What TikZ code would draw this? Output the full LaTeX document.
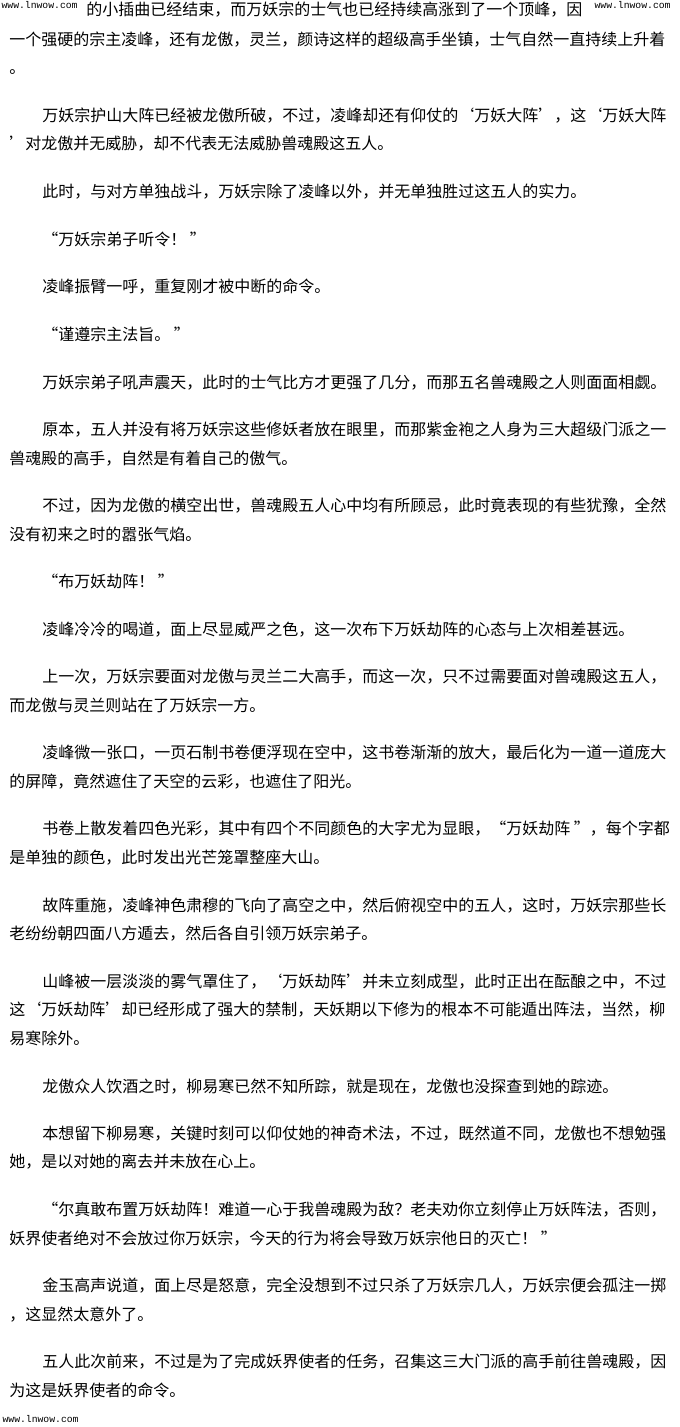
\documentclass[tikz,border=0pt]{standalone}
\usepackage{fontspec}
\newfontfamily\cjk{Noto Sans CJK SC}
\newfontfamily\wmfont{Liberation Mono}
\usetikzlibrary{positioning}

\begin{document}
\begin{tikzpicture}[
        x=0.75pt, y=-0.75pt,
        txt/.style={anchor=base west, inner sep=0pt,
          font=\cjk\fontsize{12pt}{14pt}\selectfont},
        wmark/.style={anchor=west, inner sep=1pt, fill=white,
          font=\wmfont\fontsize{7.3pt}{8pt}\selectfont},
      ]
      \useasboundingbox (0,0) rectangle (680,1427);
      % page text, one node per printed line
      \node[txt] (l1) at (86,15.3) {的小插曲已经结束，而万妖宗的士气也已经持续高涨到了一个顶峰，因};
      \node[txt] (l2) at (9,45.3) {一个强硬的宗主凌峰，还有龙傲，灵兰，颜诗这样的超级高手坐镇，士气自然一直持续上升着};
      \node[txt] (l3) at (9,73.9) {。};
      \node[txt] (l4) at (42,121.4) {万妖宗护山大阵已经被龙傲所破，不过，凌峰却还有仰仗的‘万妖大阵’，这‘万妖大阵};
      \node[txt] (l5) at (9,150) {’对龙傲并无威胁，却不代表无法威胁兽魂殿这五人。};
      \node[txt] (l6) at (42,197.5) {此时，与对方单独战斗，万妖宗除了凌峰以外，并无单独胜过这五人的实力。};
      \node[txt] (l7) at (42,245) {“万妖宗弟子听令！ ”};
      \node[txt] (l8) at (42,292.5) {凌峰振臂一呼，重复刚才被中断的命令。};
      \node[txt] (l9) at (42,340) {“谨遵宗主法旨。 ”};
      \node[txt] (l10) at (42,388) {万妖宗弟子吼声震天，此时的士气比方才更强了几分，而那五名兽魂殿之人则面面相觑。};
      \node[txt] (l11) at (42,435.5) {原本，五人并没有将万妖宗这些修妖者放在眼里，而那紫金袍之人身为三大超级门派之一};
      \node[txt] (l12) at (9,464.1) {兽魂殿的高手，自然是有着自己的傲气。};
      \node[txt] (l13) at (42,511.6) {不过，因为龙傲的横空出世，兽魂殿五人心中均有所顾忌，此时竟表现的有些犹豫，全然};
      \node[txt] (l14) at (9,540.2) {没有初来之时的嚣张气焰。};
      \node[txt] (l15) at (42,587.7) {“布万妖劫阵！ ”};
      \node[txt] (l16) at (42,635.2) {凌峰冷冷的喝道，面上尽显威严之色，这一次布下万妖劫阵的心态与上次相差甚远。};
      \node[txt] (l17) at (42,682.7) {上一次，万妖宗要面对龙傲与灵兰二大高手，而这一次，只不过需要面对兽魂殿这五人，};
      \node[txt] (l18) at (9,711.3) {而龙傲与灵兰则站在了万妖宗一方。};
      \node[txt] (l19) at (42,758.8) {凌峰微一张口，一页石制书卷便浮现在空中，这书卷渐渐的放大，最后化为一道一道庞大};
      \node[txt] (l20) at (9,787.4) {的屏障，竟然遮住了天空的云彩，也遮住了阳光。};
      \node[txt] (l21) at (42,834.9) {书卷上散发着四色光彩，其中有四个不同颜色的大字尤为显眼，“万妖劫阵 ”，每个字都};
      \node[txt] (l22) at (9,863.5) {是单独的颜色，此时发出光芒笼罩整座大山。};
      \node[txt] (l23) at (42,911) {故阵重施，凌峰神色肃穆的飞向了高空之中，然后俯视空中的五人，这时，万妖宗那些长};
      \node[txt] (l24) at (9,939.6) {老纷纷朝四面八方遁去，然后各自引领万妖宗弟子。};
      \node[txt] (l25) at (42,987.1) {山峰被一层淡淡的雾气罩住了，‘万妖劫阵’并未立刻成型，此时正出在酝酿之中，不过};
      \node[txt] (l26) at (9,1015.7) {这‘万妖劫阵’却已经形成了强大的禁制，天妖期以下修为的根本不可能遁出阵法，当然，柳};
      \node[txt] (l27) at (9,1044.3) {易寒除外。};
      \node[txt] (l28) at (42,1092) {龙傲众人饮酒之时，柳易寒已然不知所踪，就是现在，龙傲也没探查到她的踪迹。};
      \node[txt] (l29) at (42,1139.3) {本想留下柳易寒，关键时刻可以仰仗她的神奇术法，不过，既然道不同，龙傲也不想勉强};
      \node[txt] (l30) at (9,1167.9) {她，是以对她的离去并未放在心上。};
      \node[txt] (l31) at (42,1215.4) {“尔真敢布置万妖劫阵！难道一心于我兽魂殿为敌？老夫劝你立刻停止万妖阵法，否则，};
      \node[txt] (l32) at (9,1244) {妖界使者绝对不会放过你万妖宗，今天的行为将会导致万妖宗他日的灭亡！ ”};
      \node[txt] (l33) at (42,1291.5) {金玉高声说道，面上尽是怒意，完全没想到不过只杀了万妖宗几人，万妖宗便会孤注一掷};
      \node[txt] (l34) at (9,1320.1) {，这显然太意外了。};
      \node[txt] (l35) at (42,1367.6) {五人此次前来，不过是为了完成妖界使者的任务，召集这三大门派的高手前往兽魂殿，因};
      \node[txt] (l36) at (9,1396.2) {为这是妖界使者的命令。};
      % site marks
      \node[wmark] (wm1) at (0,5) {www.lnwow.com};
      \node[wmark] (wm2) at (593,5) {www.lnwow.com};
      \node[wmark] (wm3) at (1,1419) {www.lnwow.com};
    \end{tikzpicture}
\end{document}
